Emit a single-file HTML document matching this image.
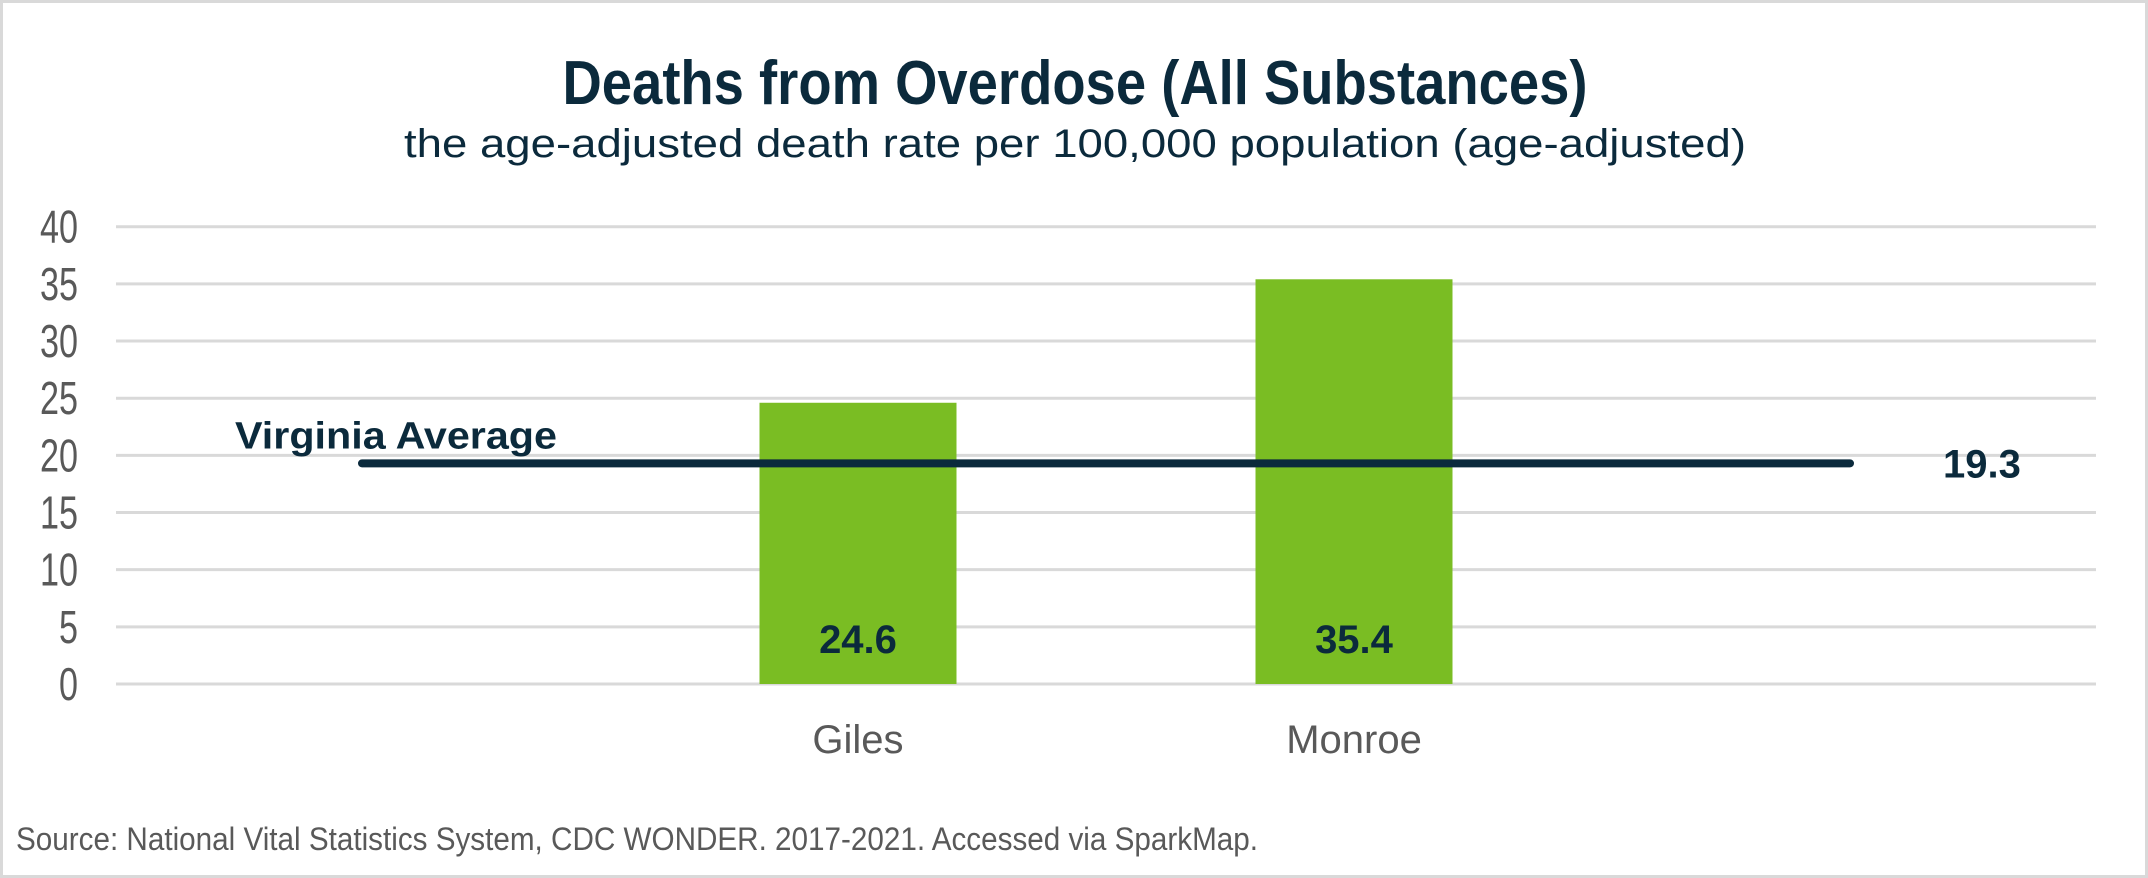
<!DOCTYPE html>
<html><head><meta charset="utf-8"><style>
html,body{margin:0;padding:0;background:#fff}
svg{display:block}
text{font-family:"Liberation Sans Narrow","Liberation Sans",sans-serif}
</style></head><body>
<svg id="chart" width="2148" height="878" viewBox="0 0 2148 878">
<rect x="1.5" y="1.5" width="2145" height="875" fill="#fff" stroke="#d9d9d9" stroke-width="3"/>
<text x="1075" y="104" text-anchor="middle" font-size="62" font-weight="bold" fill="#0b2a3c" textLength="1025" lengthAdjust="spacingAndGlyphs">Deaths from Overdose (All Substances)</text>
<text x="1075" y="157" text-anchor="middle" font-size="40" fill="#0b2a3c" style="font-family:'Liberation Sans',sans-serif" textLength="1342" lengthAdjust="spacingAndGlyphs">the age-adjusted death rate per 100,000 population (age-adjusted)</text>
<g id="grid"></g><g id="bars"></g><g id="avg"></g><g id="labels"></g>
<text x="16" y="850" font-size="32" fill="#595959" textLength="1242" lengthAdjust="spacingAndGlyphs">Source:  National Vital Statistics System, CDC WONDER. 2017-2021. Accessed via SparkMap.</text>
</svg>
<script>
const categories = ["Giles", "Monroe"];
const values = [24.6, 35.4];
const averageValue = 19.3;
const averageLabel = "Virginia Average";
const yTicks = [0, 5, 10, 15, 20, 25, 30, 35, 40];

const NS = "http://www.w3.org/2000/svg";
const plotLeft = 116, plotRight = 2096, y0 = 684, y40 = 226.7;
function yScale(v){ return y0 - (v/40)*(y0 - y40); }
function xCenter(i){ return 858 + 496*i; }
const barW = 197;
function mk(tag, attrs, parent, txt){
  const e = document.createElementNS(NS, tag);
  for (const k in attrs) e.setAttribute(k, attrs[k]);
  if (txt !== undefined) e.textContent = txt;
  parent.appendChild(e); return e;
}
const grid = document.getElementById('grid');
yTicks.forEach(t => {
  const y = yScale(t);
  const l = mk('line', {x1: plotLeft, x2: plotRight, y1: y, y2: y, stroke: '#d9d9d9', 'stroke-width': 3}, grid);
  
  
  const s = String(t);
  const tx = mk('text', {x: 78, y: y + 16, 'text-anchor': 'end', 'font-size': 46, fill: '#595959', textLength: s.length * 19, lengthAdjust: 'spacingAndGlyphs'}, grid, s);
  
  
});
const bars = document.getElementById('bars');
const labels = document.getElementById('labels');
categories.forEach((c, i) => {
  const cx = xCenter(i), top = yScale(values[i]);
  const r = mk('rect', {x: cx - barW/2, y: top, width: barW, height: y0 - top, fill: '#7abd23'}, bars);
  
  
  const v = mk('text', {x: cx, y: 653, 'text-anchor': 'middle', 'font-size': 40, 'font-weight': 'bold', fill: '#0b2a3c'}, labels, values[i].toFixed(1));
  
  
  const cl = mk('text', {x: cx, y: 753, 'text-anchor': 'middle', 'font-size': 40, fill: '#595959'}, labels, c);
  
  
});
const avg = document.getElementById('avg');
const ay = yScale(averageValue);
const al = mk('line', {x1: 362, x2: 1850, y1: ay, y2: ay, stroke: '#0b2a3c', 'stroke-width': 8, 'stroke-linecap': 'round'}, avg);


const at = mk('text', {x: 235, y: ay - 15, 'font-size': 38, 'font-weight': 'bold', fill: '#0b2a3c', textLength: 322, lengthAdjust: 'spacingAndGlyphs'}, avg, averageLabel);


const av = mk('text', {x: 1943, y: ay + 14, 'font-size': 40, 'font-weight': 'bold', fill: '#0b2a3c'}, avg, averageValue.toFixed(1));


</script>
</body></html>
